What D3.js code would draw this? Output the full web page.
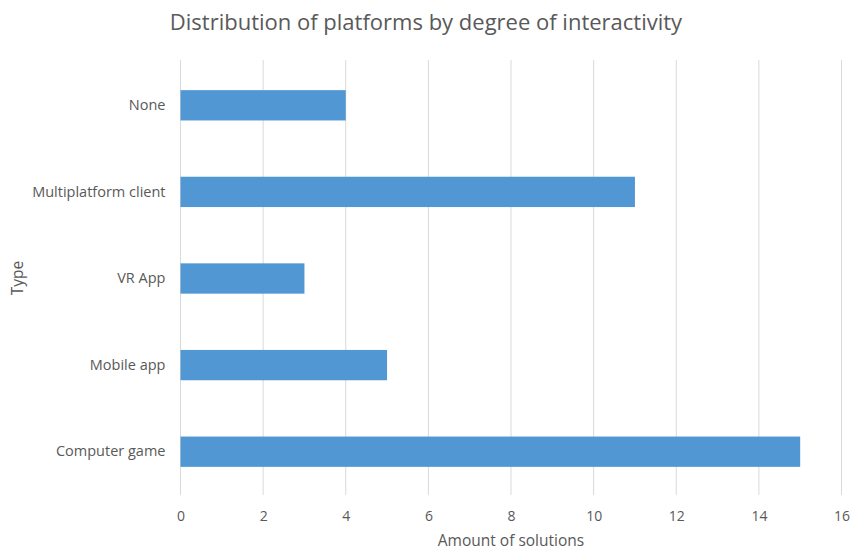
<!DOCTYPE html>
<html>
<head>
<meta charset="utf-8">
<script src="https://cdn.jsdelivr.net/npm/d3@7"></script>
<style>
  body { margin: 0; background: #fff; }
  text { font-family: "Open Sans", sans-serif; fill: #595959; }
</style>
</head>
<body>
<div id="chart"></div>
<script>
const categories = ["None", "Multiplatform client", "VR App", "Mobile app", "Computer game"]
const amounts = [4, 11, 3, 5, 15]
const xTicks = [0, 2, 4, 6, 8, 10, 12, 14, 16]

const title = "Distribution of platforms by degree of interactivity"
const xTitle = "Amount of solutions"
const yTitle = "Type"

const width = 851
const height = 550
const margin = {top: 62, right: 9.5, bottom: 55, left: 180.5}

const barColor = "#5097d3"
const gridColor = "#d9d9d9"

const svg = d3.select("#chart")
      .append("svg")
      .attr("width", width)
      .attr("height", height)

const x = d3.scaleLinear()
      .domain([0, 16])
      .range([margin.left, width - margin.right])

const y = d3.scaleBand()
      .domain(categories)
      .range([margin.top, height - margin.bottom])
      .paddingInner(0.65)
      .paddingOuter(0.325)

// gridlines
svg.append("g")
  .selectAll("line")
  .data(xTicks)
  .join("line")
  .attr("x1", d => x(d))
  .attr("x2", d => x(d))
  .attr("y1", margin.top - 2)
  .attr("y2", height - margin.bottom)
  .attr("stroke", gridColor)
  .attr("stroke-width", 1)

// bars
svg.append("g")
  .selectAll("rect")
  .data(categories.map((c, i) => ({cat: c, val: amounts[i]})))
  .join("rect")
  .attr("x", x(0))
  .attr("y", d => y(d.cat))
  .attr("width", d => x(d.val) - x(0))
  .attr("height", y.bandwidth())
  .attr("fill", barColor)

// x axis
const xAxis = svg.append("g")
      .attr("transform", `translate(0,${height - margin.bottom})`)
      .call(d3.axisBottom(x).tickValues(xTicks).tickSize(0).tickPadding(16))
xAxis.select(".domain").remove()
xAxis.selectAll("text").attr("font-size", 14).attr("font-family", "Open Sans")

// y axis
const yAxis = svg.append("g")
      .attr("transform", `translate(${margin.left},0)`)
      .call(d3.axisLeft(y).tickSize(0).tickPadding(15))
yAxis.select(".domain").remove()
yAxis.selectAll("text").attr("font-size", 14.5).attr("font-family", "Open Sans")

// titles
svg.append("text")
  .attr("x", 426)
  .attr("y", 30)
  .attr("text-anchor", "middle")
  .attr("font-size", 22)
  .text(title)

svg.append("text")
  .attr("x", 511)
  .attr("y", 546)
  .attr("text-anchor", "middle")
  .attr("font-size", 15.5)
  .text(xTitle)

svg.append("text")
  .attr("transform", "translate(23,278) rotate(-90)")
  .attr("text-anchor", "middle")
  .attr("font-size", 15.5)
  .text(yTitle)
</script>
</body>
</html>
